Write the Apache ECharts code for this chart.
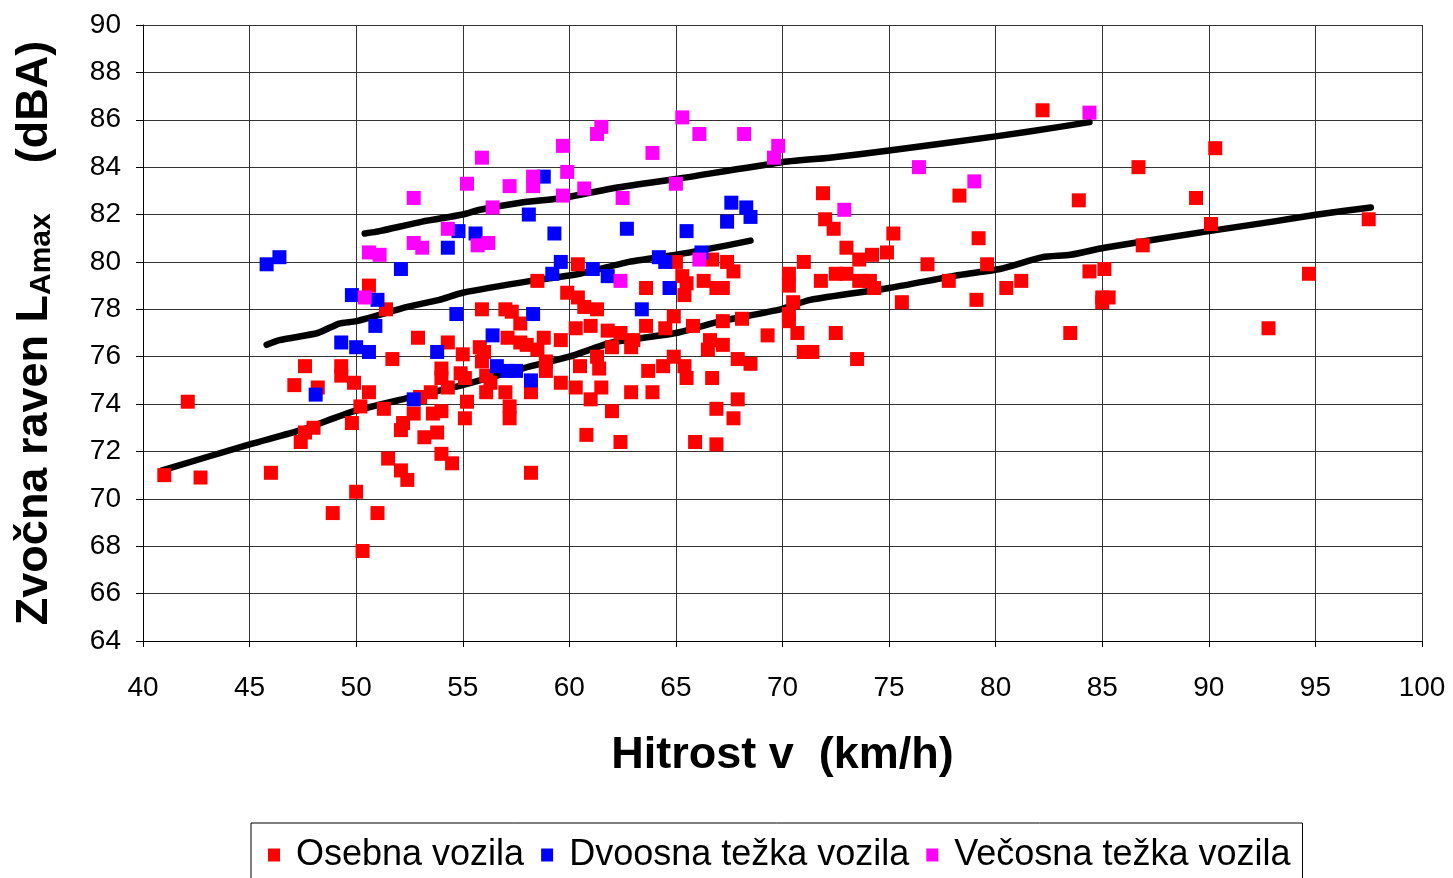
<!DOCTYPE html>
<html>
<head>
<meta charset="utf-8">
<script src="https://cdn.jsdelivr.net/npm/echarts@6/dist/echarts.min.js"></script>
<style>
html,body{margin:0;padding:0;background:#fff;}
#main{width:1453px;height:878px;}
</style>
</head>
<body>
<div id="main"></div>
<script>
var xTicks = [40, 45, 50, 55, 60, 65, 70, 75, 80, 85, 90, 95, 100];
var yTicks = [64, 66, 68, 70, 72, 74, 76, 78, 80, 82, 84, 86, 88, 90];
var seriesNames = ['Osebna vozila', 'Dvoosna težka vozila', 'Večosna težka vozila'];

// osebna vozila [km/h, dBA]
var osebna = [
    [41.0,71.0],[42.1,74.1],[42.7,70.9],[46.0,71.1],[47.1,74.8],[47.6,75.6],[47.4,72.4],[47.6,72.8],[48.0,73.0],[48.2,74.7],
    [48.9,69.4],[49.3,75.6],[49.3,75.2],[49.9,74.9],[50.6,74.5],[49.8,73.2],[50.2,73.9],[51.3,73.8],[51.5,71.7],[52.1,71.2],
    [52.4,70.8],[50.0,70.3],[51.0,69.4],[50.3,67.8],[50.6,79.0],[51.4,78.0],[52.9,76.8],[51.7,75.9],[52.7,73.6],[52.2,73.2],
    [52.1,72.9],[53.2,72.6],[53.6,73.6],[53.0,74.3],[53.5,74.5],
    [55.9,78.0],[57.0,78.0],[57.3,77.9],[57.7,77.4],[58.5,79.2],[60.4,79.9],[59.9,78.7],[60.4,78.5],[60.7,78.1],[61.3,78.0],
    [63.6,78.9],[64.9,77.7],[64.5,77.2],[54.3,76.6],[55.8,76.4],[56.0,76.2],[57.1,76.8],[57.7,76.6],[58.0,76.5],[58.5,76.3],
    [58.8,76.8],[59.6,76.7],[60.3,77.2],[61.0,77.3],[61.8,77.1],[62.4,77.0],[63.0,76.7],[63.6,77.3],[62.0,76.4],[61.3,76.0],
    [60.5,75.6],[61.4,75.5],[62.9,76.4],[63.7,75.4],[64.4,75.6],[64.9,76.0],[55.0,76.1],[54.9,75.3],[55.1,75.1],[54.0,75.5],
    [54.0,75.1],[54.3,74.7],[54.0,73.7],[53.8,72.8],[54.0,71.9],[54.5,71.5],[55.2,74.1],[55.1,73.4],[55.9,75.8],[56.1,75.2],
    [56.3,74.9],[56.1,74.5],[57.0,74.5],[57.2,73.9],[57.2,73.4],[58.2,74.5],[58.9,75.4],[59.6,74.9],[60.3,74.7],[61.0,74.2],
    [61.5,74.7],[62.0,73.7],[60.8,72.7],[62.4,72.4],[58.2,71.1],[62.9,74.5],[63.9,74.5],[58.9,75.8],
    [65.0,80.0],[66.7,80.1],[67.4,80.0],[67.7,79.6],[71.0,80.0],[70.3,79.5],[70.3,79.0],[71.8,79.2],[65.3,79.4],[65.5,79.1],
    [65.4,78.6],[66.3,79.2],[66.9,78.9],[67.2,78.9],[70.5,78.3],[70.3,77.8],[70.3,77.5],[70.7,77.0],[69.3,76.9],[65.8,77.3],
    [67.2,77.5],[68.1,77.6],[66.6,76.7],[67.2,76.5],[66.5,76.3],[67.9,75.9],[68.5,75.7],[65.4,75.6],[65.5,75.1],[66.7,75.1],
    [67.9,74.2],[66.9,73.8],[67.7,73.4],[65.9,72.4],[66.9,72.3],
    [71.9,82.9],[72.0,81.8],[72.4,81.4],[78.3,82.8],[75.2,81.2],[73.0,80.6],[73.6,80.1],[74.2,80.3],[74.9,80.4],[72.5,79.5],
    [73.0,79.5],[73.6,79.2],[74.1,79.2],[74.3,78.9],[76.8,79.9],[77.8,79.2],[79.6,79.9],[79.2,81.0],[75.6,78.3],[79.1,78.4],
    [80.5,78.9],[81.2,79.2],[72.5,77.0],[71.0,76.2],[71.4,76.2],[73.5,75.9],
    [82.2,86.4],[90.3,84.8],[86.7,84.0],[83.9,82.6],[89.4,82.7],[90.1,81.6],[97.5,81.8],[86.9,80.7],[84.4,79.6],[85.1,79.7],
    [85.0,78.5],[85.3,78.5],[85.0,78.3],[83.5,77.0],[94.7,79.5],[92.8,77.2]
];

// dvoosna tezka vozila
var dvoosna = [
    [45.8,79.9],[46.4,80.2],[52.1,79.7],[49.8,78.6],[51.0,78.4],[50.9,77.3],[49.3,76.6],[50.0,76.4],[50.6,76.2],[48.1,74.4],
    [52.7,74.2],[53.8,76.2],[58.8,83.6],[54.8,81.3],[55.6,81.2],[54.3,80.6],[58.1,82.0],[59.3,81.2],[62.7,81.4],[59.6,80.0],
    [59.2,79.5],[61.1,79.7],[61.8,79.4],[64.2,80.2],[64.5,80.0],[64.7,78.9],[54.7,77.8],[56.4,76.9],[56.6,75.6],[57.1,75.4],
    [57.5,75.4],[58.2,75.0],[58.3,77.8],[63.4,78.0],[67.6,82.5],[68.3,82.3],[68.5,81.9],[67.4,81.7],[65.5,81.3],[66.2,80.4]
];

// vecosna tezka vozila
var vecosna = [
    [50.4,78.5],[50.6,80.4],[51.1,80.3],[52.7,82.7],[52.7,80.8],[53.1,80.6],[54.3,81.4],[55.2,83.3],[55.9,84.4],[55.7,80.7],
    [56.2,80.8],[56.4,82.3],[57.2,83.2],[58.3,83.6],[58.3,83.2],[59.7,84.9],[59.9,83.8],[59.7,82.8],[60.7,83.1],[61.3,85.4],
    [61.5,85.7],[63.9,84.6],[62.5,82.7],[62.4,79.2],[65.3,86.1],[66.1,85.4],[68.2,85.4],[69.8,84.9],[69.6,84.4],[65.0,83.3],
    [66.1,80.1],[76.4,84.0],[79.0,83.4],[72.9,82.2],[84.4,86.3]
];

// trendne krivulje
var trendOsebna = [
    [40.9,71.2],[45.0,72.3],[47.4,72.9],[49.9,73.7],[52.4,74.25],[55.0,74.8],[58.2,75.6],[60.0,76.0],[62.0,76.6],[65.0,77.0],
    [67.1,77.5],[69.9,78.0],[71.3,78.4],[75.0,78.9],[78.3,79.45],[80.2,79.7],[82.2,80.2],[83.5,80.3],[85.1,80.6],[90.0,81.3],
    [93.0,81.7],[95.1,82.0],[97.6,82.3]
];
var trendDvoosna = [
    [45.8,76.5],[46.4,76.7],[48.2,77.0],[49.2,77.4],[50.0,77.5],[52.4,78.1],[53.9,78.4],[55.0,78.7],[58.2,79.2],[60.5,79.5],
    [62.8,80.0],[65.0,80.3],[67.4,80.7],[68.5,80.9]
];
var trendVecosna = [
    [50.4,81.2],[51.1,81.3],[53.1,81.7],[55.0,82.0],[55.8,82.2],[57.7,82.5],[59.7,82.7],[62.0,83.1],[65.0,83.5],[69.9,84.2],
    [72.2,84.4],[75.0,84.7],[80.0,85.3],[83.0,85.7],[84.4,85.9]
];

var myChart = echarts.init(document.getElementById('main'));

function trend(data){
    return {
        type:'line',
        data:data,
        smooth:0.2,
        showSymbol:false,
        silent:true,
        z:1,
        lineStyle:{color:'#000',width:6.5,cap:'round',join:'round'}
    };
}
function points(name, data, color){
    return {
        name:name,
        type:'scatter',
        data:data,
        symbol:'rect',
        symbolSize:14,
        z:3,
        itemStyle:{color:color,opacity:1}
    };
}

option = {
    backgroundColor:'#fff',
    animation:false,
    textStyle:{fontFamily:'Liberation Sans, Arial, sans-serif'},
    grid:{left:143, right:31, top:25, bottom:237},
    legend:{
        data:seriesNames,
        left:251,
        top:823,
        orient:'horizontal',
        icon:'rect',
        itemWidth:12,
        itemHeight:13,
        itemGap:17,
        padding:[14,12,30,17],
        borderColor:'#000',
        borderWidth:1,
        textStyle:{fontSize:36,color:'#000',padding:[0,0,0,11]}
    },
    xAxis:{
        type:'value',
        min:xTicks[0],
        max:xTicks[xTicks.length-1],
        interval:5,
        name:'Hitrost v  (km/h)',
        nameLocation:'middle',
        nameGap:92,
        nameTextStyle:{fontSize:45,fontWeight:'bold',color:'#000'},
        axisLine:{show:true,onZero:false,lineStyle:{color:'#000',width:1}},
        axisTick:{show:true,length:6,lineStyle:{color:'#000'}},
        axisLabel:{fontSize:28,color:'#000',margin:33},
        splitLine:{show:true,lineStyle:{color:'#333',width:1}}
    },
    yAxis:{
        type:'value',
        min:yTicks[0],
        max:yTicks[yTicks.length-1],
        interval:2,
        name:'{m|Zvočna raven L}{s|Amax}{m|    (dBA)}',
        nameLocation:'middle',
        nameGap:86,
        nameTextStyle:{
            color:'#000',
            rich:{
                m:{fontSize:45,fontWeight:'bold',color:'#000',verticalAlign:'bottom'},
                s:{fontSize:30,fontWeight:'bold',color:'#000',verticalAlign:'bottom'}
            }
        },
        axisLine:{show:true,onZero:false,lineStyle:{color:'#000',width:1}},
        axisTick:{show:true,length:7,lineStyle:{color:'#000'}},
        axisLabel:{fontSize:28,color:'#000',margin:22},
        splitLine:{show:true,lineStyle:{color:'#333',width:1}}
    },
    series:[
        trend(trendOsebna),
        trend(trendDvoosna),
        trend(trendVecosna),
        points(seriesNames[0], osebna, '#ff0000'),
        points(seriesNames[1], dvoosna, '#0000ff'),
        points(seriesNames[2], vecosna, '#ff00ff')
    ]
};
myChart.setOption(option);
</script>
</body>
</html>
